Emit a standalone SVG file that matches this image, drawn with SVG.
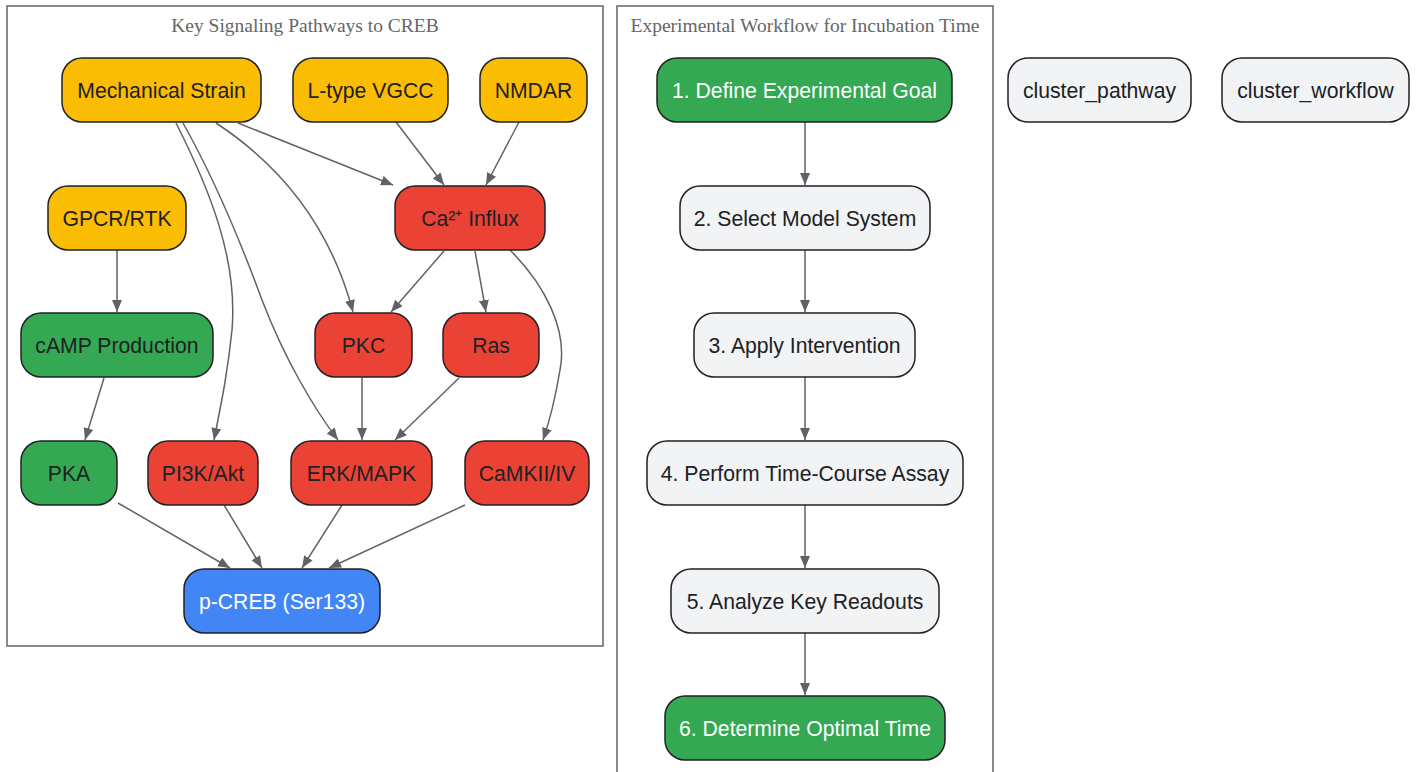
<svg xmlns="http://www.w3.org/2000/svg" width="1417" height="772" viewBox="0 0 1417 772">
<defs>
<marker id="arr" viewBox="0 0 12 10" refX="12" refY="5" markerWidth="12" markerHeight="10" markerUnits="userSpaceOnUse" orient="auto">
<path d="M0,0 L12,5 L0,10 Z" fill="#5f6368"/>
</marker>
<style>
.cl{fill:#fff;stroke:#666;stroke-width:1.5}
.ct{font-family:"Liberation Serif","Times New Roman",serif;font-size:19.5px;fill:#666;text-anchor:middle}
.n rect{stroke:#202124;stroke-width:1.5}
.n text{font-family:"Liberation Sans",Arial,sans-serif;font-size:21.2px;text-anchor:middle;fill:#202124}
.y rect{fill:#FBBC04}
.r rect{fill:#EA4335}
.g rect{fill:#34A853}
.b rect{fill:#4285F4}
.l rect{fill:#F1F3F4}
.w text{fill:#fff}
#edges path{fill:none;stroke:#5f6368;stroke-width:1.5;marker-end:url(#arr)}
</style>
</defs>
<rect width="1417" height="772" fill="#fff"/>
<g id="cluster_pathway_box">
<rect class="cl" x="7" y="6" width="596" height="640"/>
<text class="ct" x="305" y="32">Key Signaling Pathways to CREB</text>
</g>
<g id="cluster_workflow_box">
<rect class="cl" x="617" y="6" width="376" height="800"/>
<text class="ct" x="805" y="32">Experimental Workflow for Incubation Time</text>
</g>
<g id="edges">
<path d="M238,123 L393,185"/>
<path d="M216,123 C280,165 330,225 353,312"/>
<path d="M183,123 C215,180 240,240 262,300 C285,360 315,410 338,440"/>
<path d="M176,123 C210,190 238,260 232,330 C228,370 222,400 214,440"/>
<path d="M396,122 L444,185"/>
<path d="M519,122 L486,185"/>
<path d="M510,250 C545,285 568,330 560,370 C555,400 550,420 543,440"/>
<path d="M444,251 L391,312"/>
<path d="M475,251 L486,312"/>
<path d="M117,250 L117,312"/>
<path d="M104,378 L85,440"/>
<path d="M362,378 L362,440"/>
<path d="M459,378 L395,440"/>
<path d="M118,503 L230,568"/>
<path d="M224,505 L262,568"/>
<path d="M342,505 L302,568"/>
<path d="M465,505 L329,568"/>
<path d="M805,122 L805,185"/>
<path d="M805,250 L805,312"/>
<path d="M805,377 L805,440"/>
<path d="M805,505 L805,568"/>
<path d="M805,633 L805,695"/>
</g>
<g id="mech" class="n y"><rect x="62" y="58" width="199" height="64" rx="20"/><text x="161.5" y="98">Mechanical Strain</text></g>
<g id="vgcc" class="n y"><rect x="293" y="58" width="155" height="64" rx="20"/><text x="370.5" y="98">L-type VGCC</text></g>
<g id="nmdar" class="n y"><rect x="480" y="58" width="107" height="64" rx="20"/><text x="533.5" y="98">NMDAR</text></g>
<g id="gpcr" class="n y"><rect x="48" y="186" width="138" height="64" rx="20"/><text x="117" y="226">GPCR/RTK</text></g>
<g id="ca" class="n r"><rect x="395" y="186" width="150" height="64" rx="20"/><text x="470" y="226">Ca²⁺ Influx</text></g>
<g id="camp" class="n g"><rect x="21" y="313" width="192" height="64" rx="20"/><text x="117" y="353">cAMP Production</text></g>
<g id="pkc" class="n r"><rect x="315" y="313" width="97" height="64" rx="20"/><text x="363.5" y="353">PKC</text></g>
<g id="ras" class="n r"><rect x="443" y="313" width="96" height="64" rx="20"/><text x="491" y="353">Ras</text></g>
<g id="pka" class="n g"><rect x="21" y="441" width="96" height="64" rx="20"/><text x="69" y="481">PKA</text></g>
<g id="pi3k" class="n r"><rect x="148" y="441" width="110" height="64" rx="20"/><text x="203" y="481">PI3K/Akt</text></g>
<g id="erk" class="n r"><rect x="291" y="441" width="141" height="64" rx="20"/><text x="361.5" y="481">ERK/MAPK</text></g>
<g id="camk" class="n r"><rect x="465" y="441" width="124" height="64" rx="20"/><text x="527" y="481">CaMKII/IV</text></g>
<g id="pcreb" class="n b w"><rect x="184" y="569" width="196" height="64" rx="20"/><text x="282" y="609">p-CREB (Ser133)</text></g>
<g id="w1" class="n g w"><rect x="657" y="58" width="295" height="64" rx="20"/><text x="804.5" y="98">1. Define Experimental Goal</text></g>
<g id="w2" class="n l"><rect x="680" y="186" width="250" height="64" rx="20"/><text x="805" y="226">2. Select Model System</text></g>
<g id="w3" class="n l"><rect x="694" y="313" width="221" height="64" rx="20"/><text x="804.5" y="353">3. Apply Intervention</text></g>
<g id="w4" class="n l"><rect x="647" y="441" width="316" height="64" rx="20"/><text x="805" y="481">4. Perform Time-Course Assay</text></g>
<g id="w5" class="n l"><rect x="671" y="569" width="268" height="64" rx="20"/><text x="805" y="609">5. Analyze Key Readouts</text></g>
<g id="w6" class="n g w"><rect x="665" y="696" width="280" height="64" rx="20"/><text x="805" y="736">6. Determine Optimal Time</text></g>
<g id="cp" class="n l"><rect x="1008" y="58" width="183" height="64" rx="20"/><text x="1099.5" y="98">cluster_pathway</text></g>
<g id="cw" class="n l"><rect x="1222" y="58" width="187" height="64" rx="20"/><text x="1315.5" y="98">cluster_workflow</text></g>
</svg>
